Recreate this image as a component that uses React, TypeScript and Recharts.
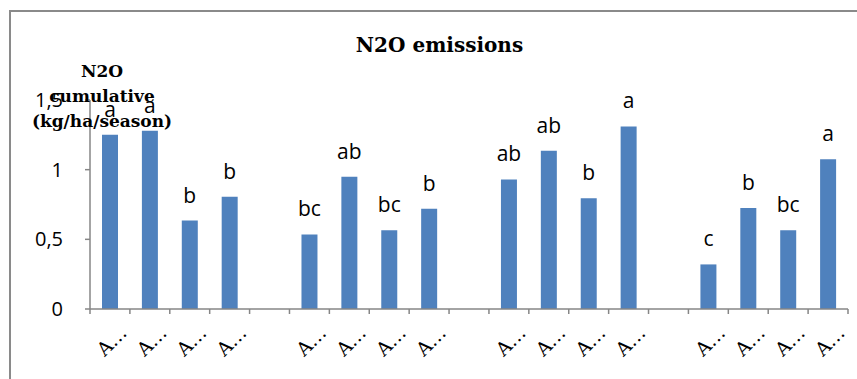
import React from "react";
import { BarChart, Bar, XAxis, YAxis, LabelList } from "recharts";

// four treatment groups of four, separated by empty slots
const treatments = [
  "A…", "A…", "A…", "A…", "",
  "A…", "A…", "A…", "A…", "",
  "A…", "A…", "A…", "A…", "",
  "A…", "A…", "A…", "A…",
];
const n2oCumulative = [
  1.25, 1.28, 0.635, 0.805, null,
  0.535, 0.95, 0.565, 0.72, null,
  0.93, 1.135, 0.795, 1.31, null,
  0.32, 0.725, 0.565, 1.075,
];
const significance = [
  "a", "a", "b", "b", "",
  "bc", "ab", "bc", "b", "",
  "ab", "ab", "b", "a", "",
  "c", "b", "bc", "a",
];
const yTicks = [0, 0.5, 1, 1.5];

const data = treatments.map((name, i) => ({
  name,
  value: n2oCumulative[i],
  letter: significance[i],
}));

const W = 857;
const H = 379;
const MARGIN = { top: 100, right: 9, left: 0, bottom: 0 };
const Y_AXIS_W = 90;
const HALF_BAND = (W - Y_AXIS_W - MARGIN.right) / treatments.length / 2;

const AXIS = "#868686";
const BAR = "#4F81BD";
const SANS = "'Open Sans', 'Liberation Sans', sans-serif";
const SERIF = "'DejaVu Serif', serif";

function CategoryTick(props: any) {
  const { x, y, payload, index } = props;
  const last = index === treatments.length - 1;
  const tx = x + 18;
  const ty = y + 25;
  return (
    <g>
      <line x1={x - HALF_BAND} y1={y} x2={x - HALF_BAND} y2={y + 5} stroke={AXIS} strokeWidth={1.5} />
      {last && <line x1={x + HALF_BAND} y1={y} x2={x + HALF_BAND} y2={y + 5} stroke={AXIS} strokeWidth={1.5} />}
      {payload.value && (
        <g transform={`translate(${tx},${ty}) rotate(-45)`}>
          <text x={0} y={0} textAnchor="end" fontFamily={SERIF} fontSize={19} fill="#000">
            {payload.value}
          </text>
        </g>
      )}
    </g>
  );
}

export default function App() {
  return (
    <div style={{ position: "absolute", left: 0, top: 0, width: W, height: H, background: "#fff", overflow: "hidden" }}>
      <div
        style={{
          position: "absolute",
          left: 9,
          top: 10,
          width: 900,
          height: 400,
          border: "2px solid #8a8a8a",
        }}
      />
      <div
        style={{
          position: "absolute",
          left: 0,
          width: W,
          top: 33,
          textAlign: "center",
          paddingLeft: 11,
          fontFamily: SERIF,
          fontWeight: "bold",
          fontSize: 20,
          lineHeight: "24px",
        }}
      >
        N2O emissions
      </div>
      <div style={{ position: "absolute", left: 0, top: 0 }}>
        <BarChart width={W} height={H} data={data} margin={MARGIN} barSize={16}>
          <XAxis
            dataKey="name"
            stroke={AXIS}
            strokeWidth={1.5}
            tickLine={false}
            tickSize={0}
            tickMargin={0}
            height={70}
            interval={0}
            tick={<CategoryTick />}
          />
          <YAxis
            width={Y_AXIS_W}
            domain={[0, 1.5]}
            ticks={yTicks}
            stroke={AXIS}
            strokeWidth={1.5}
            tickSize={5}
            tickMargin={22}
            tick={{ fill: "#000", fontSize: 20, fontFamily: SANS }}
            tickFormatter={(v: number) => String(v).replace(".", ",")}
          />
          <Bar dataKey="value" fill={BAR} isAnimationActive={false}>
            <LabelList dataKey="letter" position="top" offset={18} fill="#000" fontSize={21} fontFamily={SANS} />
          </Bar>
        </BarChart>
      </div>
      <div
        style={{
          position: "absolute",
          left: 22,
          width: 160,
          top: 59,
          textAlign: "center",
          fontFamily: SERIF,
          fontWeight: "bold",
          fontSize: 17,
          lineHeight: "25px",
        }}
      >
        N2O
        <br />
        cumulative
        <br />
        (kg/ha/season)
      </div>
    </div>
  );
}
